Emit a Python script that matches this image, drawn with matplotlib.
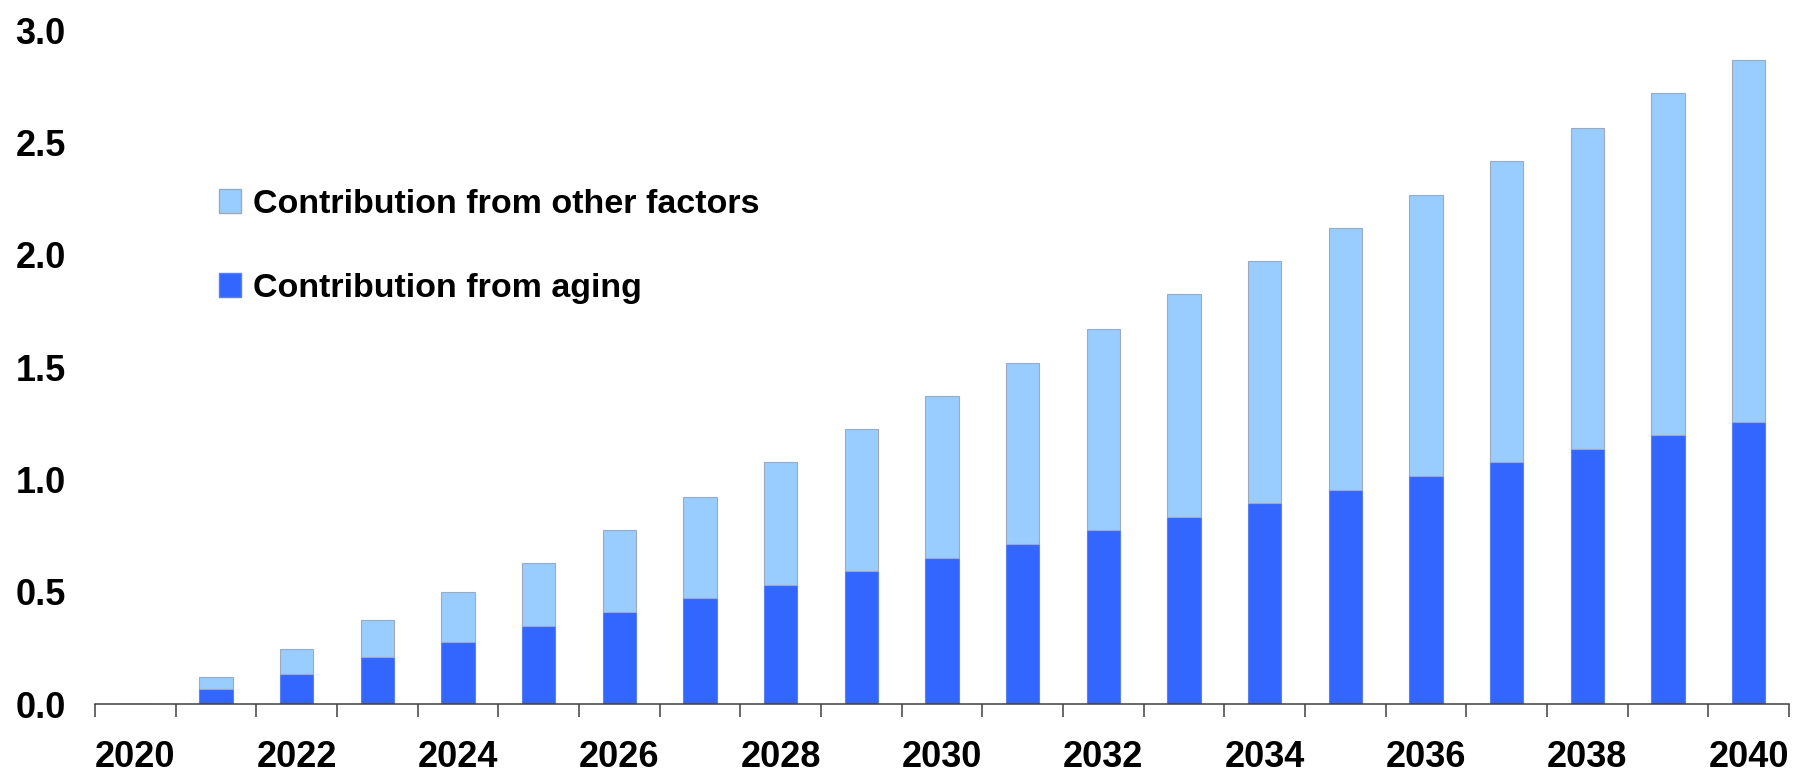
#!/usr/bin/python3

import matplotlib.pyplot as plt
from matplotlib.patches import Patch
import numpy as np

plt.rcParams['font.family'] = ['Liberation Sans', 'DejaVu Sans']

years = list(range(2020, 2041))
aging = [0.0, 0.067, 0.135, 0.209, 0.277, 0.346, 0.409, 0.472, 0.528, 0.590, 0.648,
         0.711, 0.773, 0.831, 0.893, 0.951, 1.013, 1.076, 1.133, 1.196, 1.256]
total = [0.0, 0.121, 0.243, 0.375, 0.500, 0.626, 0.773, 0.921, 1.076, 1.222, 1.372,
         1.519, 1.667, 1.823, 1.970, 2.117, 2.267, 2.415, 2.562, 2.718, 2.865]
other = [t - a for t, a in zip(total, aging)]
yticks = [0.0, 0.5, 1.0, 1.5, 2.0, 2.5, 3.0]

light = '#99CCFF'
dark = '#3366FF'

fig = plt.figure(figsize=(17.93, 7.75), dpi=100)
ax = fig.add_axes([95 / 1793, 1 - 704 / 775, 1694 / 1793, 674 / 775])

x = np.arange(len(years))
ax.bar(x, aging, width=0.41, color=dark, edgecolor='#5a80f0', linewidth=0.8)
ax.bar(x, other, bottom=aging, width=0.41, color=light, edgecolor='#9eaabb', linewidth=0.8)

ax.set_xlim(-0.5, len(years) - 0.5)
ax.set_ylim(0, 3.0)

# category axis: ticks sit between the years, labels on every other year
ax.set_xticks(np.arange(-0.5, len(years), 1.0))
ax.set_xticklabels([])
ax.set_xticks(x[::2], minor=True)
ax.set_xticklabels([str(y) for y in years[::2]], minor=True)
ax.tick_params(axis='x', which='major', direction='out', length=9, width=1.1, color='#404040')
ax.tick_params(axis='x', which='minor', length=0, pad=26, labelsize=26)

ax.set_yticks(yticks)
ax.set_yticklabels([f'{v:.1f}' for v in yticks])
ax.tick_params(axis='y', length=0, pad=21, labelsize=26)
for lbl in ax.get_xticklabels(minor=True) + ax.get_yticklabels():
    lbl.set_fontweight('bold')

for side in ['top', 'right', 'left']:
    ax.spines[side].set_visible(False)
ax.spines['bottom'].set_color('#404040')
ax.spines['bottom'].set_linewidth(1.1)

handles = [Patch(facecolor=light, edgecolor='#9eaabb', label='Contribution from other factors'),
           Patch(facecolor=dark, edgecolor='#5a80f0', label='Contribution from aging')]
fig.legend(handles=handles, loc='upper left', bbox_to_anchor=(219 / 1793, 1 - 189 / 775),
           frameon=False, borderpad=0, borderaxespad=0,
           prop={'size': 24.5, 'weight': 'bold'},
           handlelength=0.65, handleheight=0.7, handletextpad=0.35, labelspacing=1.55)

plt.savefig('out.png', dpi=100)
plt.close('all')
